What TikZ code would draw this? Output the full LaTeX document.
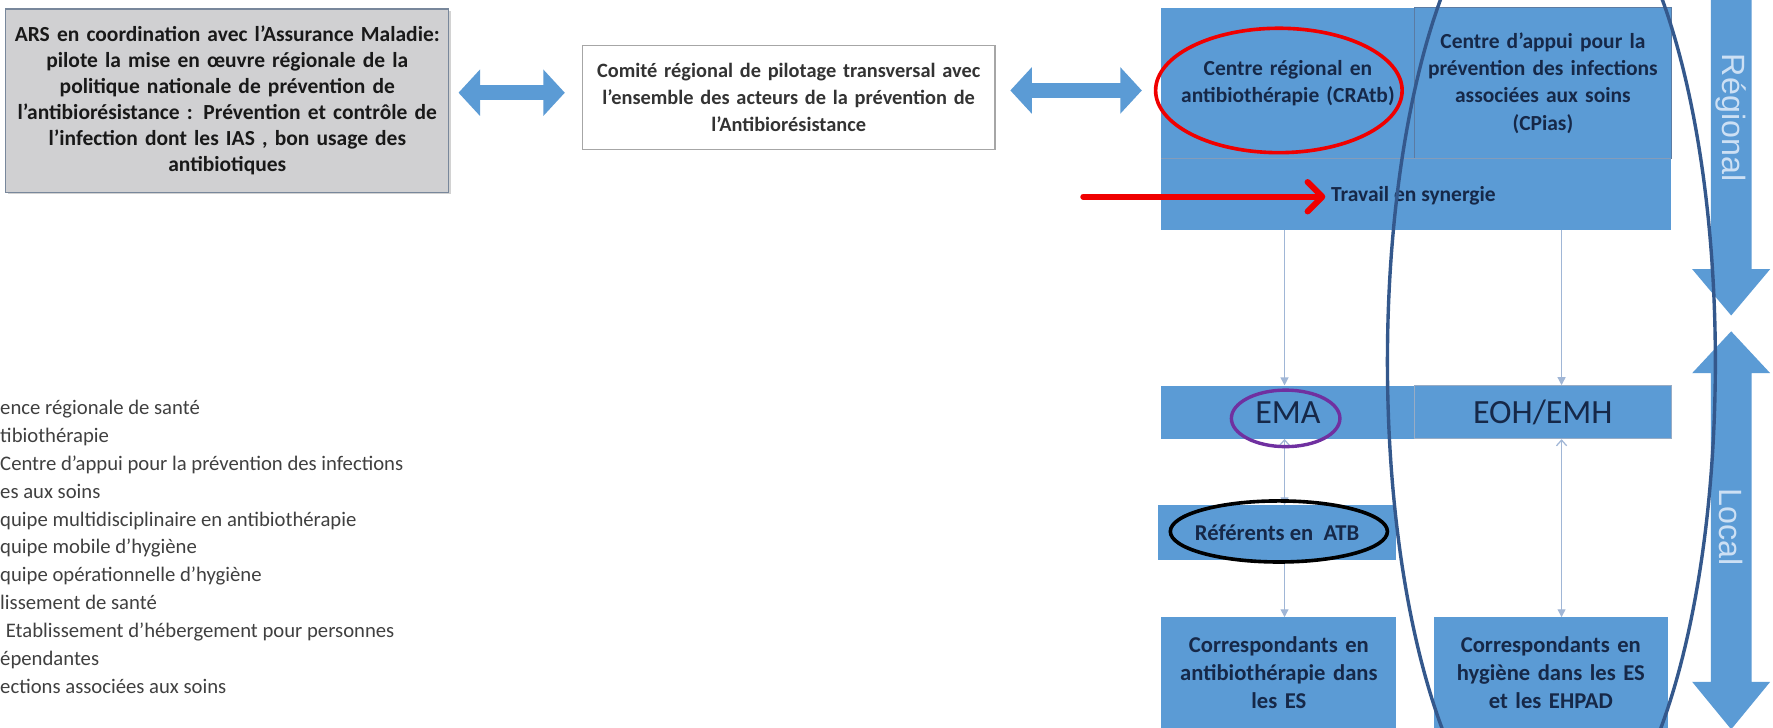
\documentclass[tikz,border=0pt]{standalone}
\usepackage{fontspec}
\setmainfont{Carlito}
\newfontfamily\levelfont{Liberation Sans}
\usetikzlibrary{arrows.meta,shapes.geometric}
\definecolor{officeblue}{RGB}{91,155,213}
\definecolor{navytext}{RGB}{22,40,72}
\definecolor{grayfill}{RGB}{208,208,210}
\definecolor{grayborder}{RGB}{120,135,155}
\definecolor{thinline}{RGB}{160,182,214}
\definecolor{cellborder}{RGB}{50,90,140}
\definecolor{bigellipse}{RGB}{52,88,140}
\definecolor{legendgray}{RGB}{64,64,64}
\definecolor{purpleell}{RGB}{112,48,160}
\definecolor{redmark}{RGB}{240,0,0}
\definecolor{leveltext}{RGB}{205,224,244}
\begin{document}
\begin{tikzpicture}[x=1pt,y=-1pt,
  graybox/.style={draw=grayborder, line width=1pt, fill=grayfill, align=center, inner sep=0pt,
    text=black!90, font=\bfseries\fontsize{19}{23}\selectfont},
  whitebox/.style={draw=gray!70, line width=1pt, fill=white, align=center, inner sep=0pt,
    text=black!80, font=\bfseries\fontsize{18}{24}\selectfont},
  bluebox/.style={fill=officeblue, draw=none, align=center, inner sep=0pt, text=navytext,
    font=\bfseries\fontsize{19}{23.5}\selectfont},
  cellbox/.style={bluebox, draw=cellborder!80, line width=0.8pt},
  plaintext/.style={inner sep=0pt, align=center, text=navytext},
  blockarrow/.style={draw=officeblue, line width=13pt,
    {Triangle[length=19pt,width=40pt]}-{Triangle[length=19pt,width=40pt]}},
  thinarrow/.style={draw=thinline, line width=1.1pt, -{Triangle[length=7pt,width=7pt]}},
  thindouble/.style={draw=thinline, line width=1.1pt,
    {Straight Barb[length=5pt,width=9pt]}-{Triangle[length=7pt,width=7pt]}},
  regiontext/.style={text=leveltext, font=\levelfont\fontsize{28.5}{30}\selectfont, inner sep=0pt},
  legendtext/.style={inner sep=0pt, align=left, text=legendgray, font=\fontsize{18.3}{24.6}\selectfont}
]
\clip (0,0) rectangle (1568,643);
\fill[white] (0,0) rectangle (1568,643);

% left boxes
\fill[gray!35] (7,10) rectangle (399,172);
\node[graybox, minimum width=392pt, minimum height=162pt, text width=390pt] (ars) at (201,89)
  {ARS en coordination avec l’Assurance Maladie:\\
   pilote la mise en œuvre régionale de la\\
   politique nationale de prévention de\\
   l’antibiorésistance : Prévention et contrôle de\\
   l’infection dont les  IAS , bon usage des\\
   antibiotiques};
\node[whitebox, minimum width=365pt, minimum height=92pt, text width=362pt] (comite) at (697.5,86)
  {Comité régional de pilotage transversal avec\\
   l’ensemble des acteurs de la prévention de\\
   l’Antibiorésistance};

% regional block
\node[bluebox, minimum width=224pt, minimum height=133pt, text width=222pt] (cratb) at (1139,73.5)
  {Centre régional en\\antibiothérapie (CRAtb)};
\node[cellbox, minimum width=227pt, minimum height=133pt, text width=225pt,
  font=\bfseries\fontsize{19}{24}\selectfont] (cpias) at (1364.5,73.5)
  {Centre d’appui pour la\\prévention des infections\\associées aux soins\\(CPias)};
\node[bluebox, minimum width=451pt, minimum height=63pt] (strip) at (1252.5,171.5) {};
\draw[cellborder!60, line width=0.8pt] (strip.north west) -- (strip.north east);
\node[plaintext, font=\bfseries\fontsize{19}{22}\selectfont] (travail) at (1250,173) {Travail en synergie};

% local level
\node[bluebox, minimum width=224pt, minimum height=47pt, font=\fontsize{30}{32}\selectfont] (ema) at (1139,364.5) {EMA};
\node[cellbox, draw=cellborder!50, minimum width=227pt, minimum height=47pt, font=\fontsize{30}{32}\selectfont] (eoh) at (1364.5,364.5) {EOH/EMH};
\node[bluebox, minimum width=211pt, minimum height=48pt, font=\bfseries\fontsize{20}{23}\selectfont] (ref) at (1129.5,471) {Référents en \ ATB};
\node[bluebox, minimum width=208pt, minimum height=98pt, text width=206pt, font=\bfseries\fontsize{20}{25}\selectfont] (corr1) at (1131,595)
  {Correspondants en\\antibiothérapie dans\\les ES};
\node[bluebox, minimum width=207pt, minimum height=98pt, text width=205pt, font=\bfseries\fontsize{20}{25}\selectfont] (corr2) at (1371.5,595)
  {Correspondants en\\hygiène dans les ES\\et les EHPAD};

% legend
\node[legendtext, anchor=north west] (legend) at (0,354)
  {ence régionale de santé\\
   tibiothérapie\\
   Centre d’appui pour la prévention des infections\\
   es aux soins\\
   quipe multidisciplinaire en antibiothérapie\\
   quipe mobile d’hygiène\\
   quipe opérationnelle d’hygiène\\
   lissement de santé\\
   \hspace*{5pt}Etablissement d’hébergement pour personnes\\
   épendantes\\
   ections associées aux soins};

% block arrows between boxes
\coordinate (arrowrow1) at (0,82);
\coordinate (arrowrow2) at (0,80);
\draw[blockarrow, shorten <=8pt, shorten >=15pt] (ars.east |- arrowrow1) -- (comite.west |- arrowrow1);
\draw[blockarrow, shorten <=13pt, shorten >=17pt] (comite.east |- arrowrow2) -- (cratb.west |- arrowrow2);

% thin connectors
\coordinate (colA) at (1136,0);
\coordinate (colB) at (1381,0);
\draw[thinarrow] (strip.south -| colA) -- (ema.north -| colA);
\draw[thinarrow] (strip.south -| colB) -- (eoh.north -| colB);
\draw[thindouble] (ema.south -| colA) -- (ref.north -| colA);
\draw[thinarrow] (ref.south -| colA) -- (corr1.north -| colA);
\draw[thindouble] (eoh.south -| colB) -- (corr2.north -| colB);

% level arrows
\fill[officeblue] (1513,-5) -- (1549,-5) -- (1549,238) -- (1565.5,238) -- (1531,279) -- (1496.5,238) -- (1513,238) -- cycle;
\fill[officeblue] (1531,293) -- (1565.5,330) -- (1549,330) -- (1549,603) -- (1565.5,603) -- (1531,645) -- (1496.5,603) -- (1513,603) -- (1513,330) -- (1496.5,330) -- cycle;
\node[regiontext, rotate=-90] (regional) at (1531,104) {Régional};
\node[regiontext, rotate=-90] (local) at (1531,466) {Local};

% annotations
\draw[redmark, line width=3.2pt] (1131,80) ellipse [x radius=109, y radius=55];
\draw[purpleell, line width=3pt] (1137,370) ellipse [x radius=48, y radius=25];
\draw[black, line width=3.2pt] (1131,470) ellipse [x radius=96, y radius=27];
\draw[bigellipse, line width=3pt] (1372,320) ellipse [x radius=145, y radius=435];
\coordinate (redstart) at (958,174);
\draw[redmark, line width=5.3pt, line cap=round, -{Straight Barb[length=13pt,width=26pt,round]}]
  (redstart) -- ([xshift=-5pt]travail.west |- redstart);
\end{tikzpicture}
\end{document}
